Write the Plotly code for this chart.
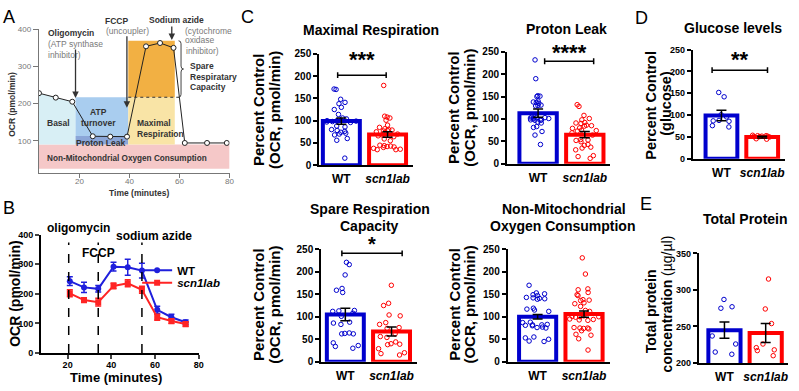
import plotly.graph_objects as go

W, H = 799, 391
FONT = "Liberation Sans, Arial, Helvetica, sans-serif"
BLUE = "#0000cd"
RED = "#ff0000"
B_BLUE = "#1f1fdc"
B_RED = "#ff2424"

def X(px):
    return px / W

def Y(py):
    return 1 - py / H

# ---------------- Panel A (schematic) ----------------
a_time = [3.8, 10.5, 17.1, 25.3, 32.3, 39.0, 46.6, 52.2, 57.6, 62.1, 71.0, 78.9]
a_ocr = [228, 216, 205, 112, 111, 111, 354, 363, 350, 94, 94, 94]
a_bounds = [3.7, 18.4, 39.5, 58.1, 80.0]
a_nonmito = [24.3, 89.6]
a_proton_top = 113
a_resp_top = 217
a_spare_top = 369
a_basal_edge = 190
a_injections = [18.4, 38.95, 56.9]
a_inject_ocr = [215, 189, 371]

# ---------------- Panel B ----------------
b_time = [21, 27.5, 34, 41, 47.5, 54, 61, 67.5, 74]
b_wt = [243, 222, 217, 292, 290, 279, 146, 121, 104]
b_wt_err = [15, 17, 11, 15, 27, 25, 12, 10, 8]
b_ko = [202, 179, 172, 227, 236, 214, 121, 108, 98]
b_ko_err = [12, 8, 13, 10, 12, 12, 10, 8, 8]
b_inject = [20.5, 34, 54]

# ---------------- Panel C ----------------
mr_wt = [170, 171, 148, 141, 138, 130, 125, 114, 104, 106, 100, 99, 98, 97, 100,
         101, 96, 99, 88, 86, 80, 76, 74, 72, 78, 70, 68, 56, 60, 16]
mr_ko = [179, 110, 108, 106, 101, 90, 85, 82, 80, 79, 78, 77, 75, 72, 70,
         68, 66, 64, 59, 55, 45, 44, 43, 42, 41, 40, 38, 36, 35, 35]
mr_mean = [99, 69]
mr_sem = [7, 6]

pl_wt = [232, 190, 152, 150, 151, 140, 138, 137, 135, 131, 130, 129, 104, 103, 103,
         102, 102, 101, 100, 98, 97, 98, 97, 93, 91, 83, 81, 72, 64, 43]
pl_ko = [132, 128, 108, 101, 98, 92, 91, 90, 86, 85, 84, 80, 79, 75, 74,
         73, 69, 64, 54, 53, 52, 49, 43, 41, 37, 35, 31, 18, 16, 12]
pl_mean = [113, 65]
pl_sem = [9, 7]

sr_wt = [221, 216, 193, 163, 159, 154, 114, 113, 112, 108, 101, 88, 86, 83, 64,
         63, 62, 62, 42, 36, 34, 30]
sr_ko = [170, 130, 125, 104, 102, 87, 83, 76, 74, 62, 56, 54, 44, 40, 39, 38, 29, 20, 18, 15]
sr_mean = [105, 67]
sr_sem = [14, 10]

nm_wt = [170, 153, 151, 149, 147, 143, 142, 141, 140, 139, 119, 117, 115, 112, 88,
         87, 83, 82, 82, 81, 80, 77, 76, 75, 55, 53, 50, 46, 45]
nm_ko = [231, 195, 162, 160, 154, 149, 147, 138, 137, 136, 131, 129, 123, 114, 112,
         102, 101, 101, 100, 100, 99, 95, 94, 93, 92, 76, 75, 75, 74, 73, 69, 61, 59, 51, 26]
nm_mean = [100, 106]
nm_sem = [5, 7]

# ---------------- Panel D / E ----------------
gl_wt = [152, 142, 101, 96, 88, 87, 86, 76, 73]
gl_ko = [53, 52, 54, 51, 53, 50, 52, 51, 46, 45]
gl_mean = [99, 50]
gl_sem = [12, 2]

tp_wt = [287, 277, 275, 237, 226, 215, 212]
tp_ko = [315, 274, 254, 226, 221, 218, 217, 210]
tp_mean = [245, 241]
tp_sem = [11, 13]

groups = ["<b>WT</b>", "<b><i>scn1lab</i></b>"]

fig = go.Figure()

# ---------- Panel A traces/shapes ----------
shapes = []
def rect(x0, x1, y0, y1, color, xref="x", yref="y"):
    shapes.append(dict(type="rect", xref=xref, yref=yref, x0=x0, x1=x1, y0=y0, y1=y1,
                       fillcolor=color, line=dict(width=0), layer="below"))

rect(a_bounds[0], a_bounds[4], a_nonmito[0], a_nonmito[1], "#f5c8c8")
basal_path = (f"M {a_bounds[0]},{a_nonmito[1]} L {a_bounds[0]},{a_ocr[0]} "
              f"L {a_time[0]},{a_ocr[0]} L {a_time[1]},{a_ocr[1]} L {a_time[2]},{a_ocr[2]} "
              f"L {a_bounds[1]},{a_basal_edge} L {a_bounds[1]},{a_nonmito[1]} Z")
shapes.append(dict(type="path", xref="x", yref="y", path=basal_path,
                   fillcolor="#d8eff5", line=dict(width=0), layer="below"))
rect(a_bounds[1], a_bounds[2], a_proton_top, a_resp_top, "#a9cdef")
rect(a_bounds[1], a_bounds[2], a_nonmito[1], a_proton_top, "#8ba6d8")
rect(a_bounds[2], a_bounds[3], a_nonmito[1], a_resp_top, "#f9e4a6")
rect(a_bounds[2], a_bounds[3], a_resp_top, a_spare_top, "#f2b043")
shapes.append(dict(type="line", xref="x", yref="y", x0=a_bounds[2], x1=60.9,
                   y0=a_resp_top, y1=a_resp_top, line=dict(color="#333", width=1, dash="dot")))
bx0, bx1, bx2 = 59.6, 60.6, 61.6
ymid = (a_spare_top + a_resp_top) / 2
d = 8
brace = (f"M {bx0},{a_spare_top} Q {bx1},{a_spare_top} {bx1},{a_spare_top-d} "
         f"L {bx1},{ymid+d} Q {bx1},{ymid} {bx2},{ymid} Q {bx1},{ymid} {bx1},{ymid-d} "
         f"L {bx1},{a_resp_top+d} Q {bx1},{a_resp_top} {bx0},{a_resp_top}")
shapes.append(dict(type="path", xref="x", yref="y", path=brace, line=dict(color="#444", width=1)))

fig.add_trace(go.Scatter(x=a_time, y=a_ocr, mode="lines+markers", xaxis="x", yaxis="y",
                         line=dict(color="#222", width=1),
                         marker=dict(symbol="circle", size=5, color="white",
                                     line=dict(color="#222", width=1)),
                         showlegend=False, hoverinfo="skip"))

# ---------- Panel B ----------
fig.add_trace(go.Scatter(x=b_time, y=b_wt, mode="lines+markers", xaxis="x2", yaxis="y2",
                         name="<b>WT</b>", legend="legend", line=dict(color=B_BLUE, width=2),
                         marker=dict(symbol="circle", size=6, color=B_BLUE),
                         error_y=dict(type="data", array=b_wt_err, color=B_BLUE, thickness=1.5, width=3)))
fig.add_trace(go.Scatter(x=b_time, y=b_ko, mode="lines+markers", xaxis="x2", yaxis="y2",
                         name="<b><i>scn1lab</i></b>", legend="legend2", line=dict(color=B_RED, width=2),
                         marker=dict(symbol="square", size=6, color=B_RED),
                         error_y=dict(type="data", array=b_ko_err, color=B_RED, thickness=1.5, width=3)))
for t in b_inject:
    shapes.append(dict(type="line", xref="x2", yref="y2", x0=t, x1=t, y0=0, y1=374,
                       line=dict(color="black", width=1.5, dash="dash")))

# ---------- bar panels ----------
def bar_panel(xa, ya, wt, ko, means, sems, bw):
    fig.add_trace(go.Bar(x=[0, 1], y=means, width=bw, xaxis=xa, yaxis=ya,
                         marker=dict(color="white", line=dict(color=[BLUE, RED], width=4)),
                         showlegend=False, hoverinfo="skip"))
    for pos, vals, c in [(0, wt, BLUE), (1, ko, RED)]:
        fig.add_trace(go.Box(y=vals, x0=pos, xaxis=xa, yaxis=ya, boxpoints="all",
                             jitter=0.9, pointpos=0, width=bw,
                             fillcolor="rgba(0,0,0,0)", whiskerwidth=0,
                             line=dict(width=0, color="rgba(0,0,0,0)"),
                             marker=dict(symbol="circle-open", size=4.5, color=c,
                                         line=dict(width=1, color=c)),
                             showlegend=False, hoverinfo="skip"))
    fig.add_trace(go.Scatter(x=[0, 1], y=means, mode="markers", xaxis=xa, yaxis=ya,
                             marker=dict(size=2, color="rgba(0,0,0,0)"),
                             error_y=dict(type="data", array=sems, color="black",
                                          thickness=1.5, width=5),
                             showlegend=False, hoverinfo="skip"))

bar_panel("x3", "y3", mr_wt, mr_ko, mr_mean, mr_sem, 0.8)
bar_panel("x4", "y4", pl_wt, pl_ko, pl_mean, pl_sem, 0.8)
bar_panel("x5", "y5", sr_wt, sr_ko, sr_mean, sr_sem, 0.8)
bar_panel("x6", "y6", nm_wt, nm_ko, nm_mean, nm_sem, 0.8)
bar_panel("x7", "y7", gl_wt, gl_ko, gl_mean, gl_sem, 0.78)
bar_panel("x8", "y8", tp_wt, tp_ko, tp_mean, tp_sem, 0.78)

# significance brackets
brackets = [("x3", "y3", -0.08, 0.97, 202, "***", 16, 22),
            ("x4", "y4", 0.14, 1.19, 229, "****", 9, 22),
            ("x5", "y5", -0.075, 1.23, 241, "*", 9, 20),
            ("x7", "y7", -0.23, 1.13, 203, "**", 11, 22)]
annotations = []
for xa, ya, x0, x1, yv, stars, ys, fsz in brackets:
    shapes.append(dict(type="line", xref=xa, yref=ya, x0=x0, x1=x1, y0=yv, y1=yv,
                       line=dict(color="black", width=1.5)))
    for xe in (x0, x1):
        shapes.append(dict(type="line", xref=xa, yref=ya, x0=xe, x1=xe, y0=yv - 6.5, y1=yv + 6.5,
                           line=dict(color="black", width=1.5)))
    annotations.append(dict(xref=xa, yref=ya, x=(x0 + x1) / 2, y=yv, text=f"<b>{stars}</b>",
                            showarrow=False, yanchor="middle", yshift=ys,
                            font=dict(size=fsz, color="black")))

# ---------- text annotations ----------
def txt(text, px, py, size, color="black", xanchor="center", angle=0):
    annotations.append(dict(xref="paper", yref="paper", x=X(px), y=Y(py), text=text,
                            showarrow=False, xanchor=xanchor, yanchor="middle",
                            textangle=angle, font=dict(size=size, color=color)))

DK, LT = "#333333", "#7a7a7a"
txt("<b>Oligomycin</b>", 46, 28, 8.5, DK, "left")
txt("(ATP synthase", 46, 39.5, 8.5, LT, "left")
txt("inhibitor)", 46, 50.5, 8.5, LT, "left")
txt("<b>FCCP</b>", 104, 15, 8.5, DK, "left")
txt("(uncoupler)", 105, 26, 8.5, LT, "left")
txt("<b>Sodium azide</b>", 148, 14.5, 8.5, DK, "left")
txt("(cytochrome", 184, 25.5, 8.5, LT, "left")
txt("oxidase", 184, 35.5, 8.5, LT, "left")
txt("inhibitor)", 185, 46, 8.5, LT, "left")
txt("<b>Spare</b>", 189, 62, 8.5, DK, "left")
txt("<b>Respiratary</b>", 189, 73, 8.5, DK, "left")
txt("<b>Capacity</b>", 189, 84, 8.5, DK, "left")
txt("<b>Basal</b>", 45, 121, 8.5, DK, "left")
txt("<b>ATP</b>", 99, 109, 8.5, DK)
txt("<b>turnover</b>", 99, 121, 8.5, DK)
txt("<b>Proton Leak</b>", 101, 141, 8.5, DK)
txt("<b>Maximal</b>", 136, 121, 8.5, DK, "left")
txt("<b>Respiration</b>", 136, 132, 8.5, DK, "left")
txt("<b>Non-Mitochondrial Oxygen Consumption</b>", 45, 157, 8.2, DK, "left")
txt("<b>OCR (pmol/min)</b>", 12, 101, 8.5, DK, angle=-90)
txt("<b>Time (minutes)</b>", 140, 193, 8.5, DK)

for i, t in enumerate(a_injections):
    offs = [-50, -73, -15][i]
    annotations.append(dict(xref="x", yref="y", x=t, y=a_inject_ocr[i], ax=0, ay=offs,
                            text="", showarrow=True, arrowhead=2, arrowsize=1,
                            arrowwidth=1.3, arrowcolor="#333"))

txt("<b>oligomycin</b>", 79, 229, 12)
txt("<b>FCCP</b>", 99, 254.5, 12)
txt("<b>sodium azide</b>", 155, 237, 12)
txt("<b>OCR (pmol/min)</b>", 15, 296, 14, angle=-90)
txt("<b>Time (minutes)</b>", 117, 383.5, 13)

for letter, px, py in [("A", 9, 11), ("B", 9, 208), ("C", 249, 11), ("D", 646, 12), ("E", 650, 204)]:
    txt(letter, px, py, 18)

txt("<b>Maximal Respiration</b>", 373, 25, 14)
txt("<b>Proton Leak</b>", 570, 24, 14)
txt("<b>Spare Respiration</b>", 372, 209.5, 14)
txt("<b>Capacity</b>", 372, 226.5, 14)
txt("<b>Non-Mitochondrial</b>", 568, 209.5, 14)
txt("<b>Oxygen Consumption</b>", 566, 226.5, 14)
txt("<b>Glucose levels</b>", 738, 23, 14)
txt("<b>Total Protein</b>", 750, 220, 14)

for x1, x2, yc in [(260, 276, 107), (457, 473, 105), (260, 276, 308), (457, 473, 308)]:
    txt("<b>Percent Control</b>", x1, yc, 15, angle=-90)
    txt("<b>(OCR, pmol/min)</b>", x2, yc, 15, angle=-90)
txt("<b>Percent Control</b>", 655, 102, 14.5, angle=-90)
txt("<b>(glucose)</b>", 670, 100, 14.5, angle=-90)
txt("<b>Total protein</b>", 655, 315, 14, angle=-90)
txt("<b>concentration</b> (µg/µl)", 671, 307, 14, angle=-90)

# ---------- axes ----------
leg_common = dict(xanchor="left", yanchor="middle", bgcolor="rgba(0,0,0,0)",
                  font=dict(size=11.5, color="black"), itemwidth=30, tracegroupgap=0,
                  borderwidth=0)
layout = dict(width=W, height=H, margin=dict(l=0, r=0, t=0, b=0),
              paper_bgcolor="white", plot_bgcolor="rgba(0,0,0,0)",
              font=dict(family=FONT, color="black"), barmode="overlay",
              shapes=shapes, annotations=annotations, showlegend=True,
              legend=dict(x=X(138), y=Y(272.5), **leg_common),
              legend2=dict(x=X(138), y=Y(285.5), **leg_common))

def dom_x(a, b):
    return [X(a), X(b)]

def dom_y(top, bottom):
    return [Y(bottom), Y(top)]

# A
layout["xaxis"] = dict(domain=dom_x(39, 231), anchor="y", range=[3.7, 80], tickvals=[20, 40, 60, 80],
                       showline=True, linecolor="#777", linewidth=1, ticks="outside", ticklen=4,
                       ticklabelstandoff=-3,
                       tickcolor="#777", tickfont=dict(size=8, color="#777"), showgrid=False, zeroline=False)
layout["yaxis"] = dict(domain=dom_y(24, 172), anchor="x", range=[13.9, 400], tickvals=[100, 200, 300, 400],
                       showline=True, linecolor="#777", linewidth=1, ticks="outside", ticklen=5,
                       tickcolor="#777", tickfont=dict(size=8, color="#777"), showgrid=False, zeroline=False)
# B
layout["xaxis2"] = dict(domain=dom_x(41, 200), anchor="y2", range=[7.7, 80], tickvals=[20, 40, 60, 80],
                        showline=True, linecolor="black", linewidth=1.5, ticks="outside", ticklen=4,
                        ticklabelstandoff=-2,
                        tickwidth=1.5, tickfont=dict(size=9, weight="bold"), showgrid=False, zeroline=False)
layout["yaxis2"] = dict(domain=dom_y(236, 358), anchor="x2", range=[0, 400], tickvals=[0, 100, 200, 300, 400],
                        showline=True, linecolor="black", linewidth=1.5, ticks="outside", ticklen=4,
                        tickwidth=1.5, tickfont=dict(size=9, weight="bold"), showgrid=False, zeroline=False)

panels = [
    ("3", (321, 416), (49.3, 164.3), [-0.484, 1.559], [0, 250], [0, 50, 100, 150, 200, 250], 10),
    ("4", (510, 614), (47.3, 162.7), [-0.670, 1.543], [0, 250], [0, 50, 100, 150, 200, 250], 10),
    ("5", (323, 420), (251, 367), [-0.527, 1.559], [0, 250], [0, 50, 100, 150, 200, 250], 10),
    ("6", (510.7, 614), (251, 367), [-0.649, 1.563], [0, 250], [0, 50, 100, 150, 200, 250], 10),
    ("7", (697, 790), (45, 157.7), [-0.707, 1.561], [0, 250], [0, 50, 100, 150, 200, 250], 9),
    ("8", (703, 793), (255.3, 368.3), [-0.627, 1.542], [200, 350], [200, 250, 300, 350], 9),
]
for n, (x0, x1), (y0, y1), xr, yr, yt, fs in panels:
    layout["xaxis" + n] = dict(domain=dom_x(x0, x1), anchor="y" + n, range=xr,
                               tickvals=[0, 1], ticktext=groups, ticks="", ticklabelstandoff=2,
                               showline=True, linecolor="black", linewidth=1.5,
                               tickfont=dict(size=12, color="black"), showgrid=False, zeroline=False)
    layout["yaxis" + n] = dict(domain=dom_y(y0, y1), anchor="x" + n, range=yr, tickvals=yt,
                               showline=True, linecolor="black", linewidth=1.5, ticks="outside",
                               ticklen=4, tickwidth=1.5, tickcolor="black",
                               tickfont=dict(size=fs, color="black", weight="bold"),
                               showgrid=False, zeroline=False)

fig.update_layout(**layout)
fig.write_html("out.html", config={"displayModeBar": False},
               post_script="document.body.style.margin='0';document.body.style.overflow='hidden';")
